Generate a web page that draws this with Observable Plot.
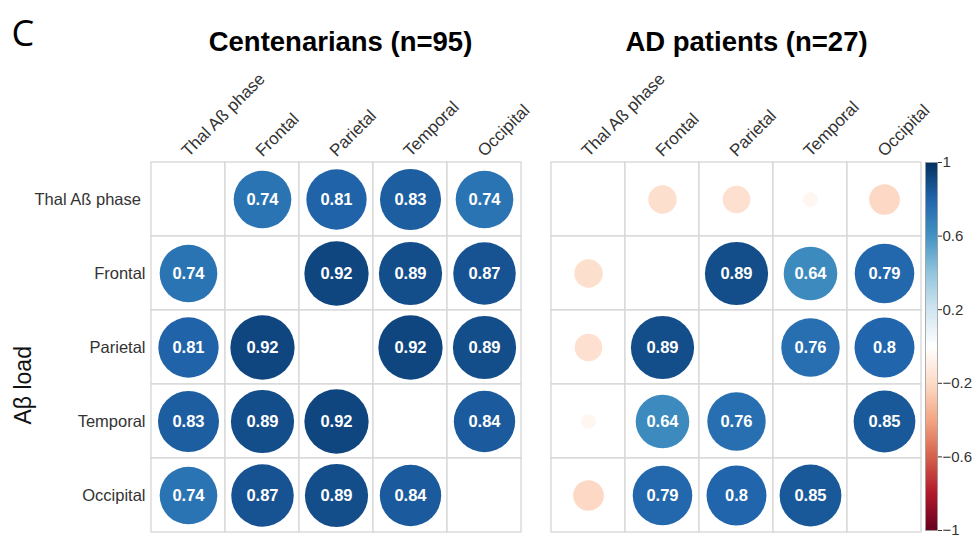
<!DOCTYPE html>
<html><head><meta charset="utf-8">
<script src="https://cdn.jsdelivr.net/npm/d3@7"></script>
<script src="https://cdn.jsdelivr.net/npm/@observablehq/plot@0.6"></script>
<style>
body{margin:0;background:#fff;}
#wrap{position:relative;width:973px;height:542px;overflow:hidden;background:#fff;}
#wrap svg{position:absolute;top:0;font-family:'Liberation Sans', Arial, sans-serif !important;}
</style></head><body><div id="wrap"></div>
<script>
const variables = ["Thal Aß phase", "Frontal", "Parietal", "Temporal", "Occipital"];
const groups = ["Centenarians (n=95)", "AD patients (n=27)"];
const centenarians = [
  [null, 0.74, 0.81, 0.83, 0.74],
  [0.74, null, 0.92, 0.89, 0.87],
  [0.81, 0.92, null, 0.92, 0.89],
  [0.83, 0.89, 0.92, null, 0.84],
  [0.74, 0.87, 0.89, 0.84, null]
];
const adPatients = [
  [null, -0.18, -0.17, -0.05, -0.21],
  [-0.18, null, 0.89, 0.64, 0.79],
  [-0.17, 0.89, null, 0.76, 0.8],
  [-0.05, 0.64, 0.76, null, 0.85],
  [-0.21, 0.79, 0.8, 0.85, null]
];
const paletteStops = [-1, -0.8, -0.6, -0.4, -0.2, 0, 0.2, 0.4, 0.6, 0.8, 1];
const paletteColors = ["#67001F", "#B2182B", "#D6604D", "#F4A582", "#FDDBC7", "#FFFFFF",
                       "#D1E5F0", "#92C5DE", "#4393C3", "#2166AC", "#053061"];
const colorbarTicks = [1, 0.6, 0.2, -0.2, -0.6, -1];
const panelLabel = "C";
const rowGroupLabel = "Aβ load";

const matrices = [centenarians, adPatients];
const cells = [];
groups.forEach((g, k) => {
  variables.forEach((rv, i) => {
    variables.forEach((cv, j) => {
      cells.push({group: g, row: rv, col: cv, value: matrices[k][i][j]});
    });
  });
});
const colLabels = groups.flatMap(g => variables.map(v => ({group: g, col: v})));
const colorOpts = {type: "linear", domain: paletteStops, range: paletteColors, clamp: true, legend: false};
const font = "Liberation Sans, Arial, sans-serif";
const fmt = d => (d < 0 ? "\u2212" : "") + String(Math.abs(d));

const main = Plot.plot({
  width: 973, height: 542,
  marginLeft: 151, marginRight: 52, marginTop: 162, marginBottom: 10,
  style: {background: "transparent", overflow: "visible"},
  fx: {domain: groups, paddingInner: 0.075, paddingOuter: 0, axis: null},
  x: {domain: variables, padding: 0, axis: null},
  y: {domain: variables, padding: 0, axis: null},
  color: colorOpts,
  r: {type: "sqrt", domain: [0, 1], range: [0, 33.5]},
  marks: [
    Plot.cell(cells, {fx: "group", x: "col", y: "row", fill: "white", stroke: "#d6d6d6", strokeWidth: 1.3}),
    Plot.dot(cells.filter(d => d.value != null), {fx: "group", x: "col", y: "row", r: d => Math.abs(d.value), fill: "value"}),
    Plot.text(cells.filter(d => d.value != null && Math.abs(d.value) > 0.5), {
      fx: "group", x: "col", y: "row", text: d => String(d.value),
      fill: "white", fontWeight: "bold", fontSize: 16.5, fontFamily: font
    }),
    Plot.axisY({tickSize: 0, tickPadding: 6, fontSize: 16.5, label: null, color: "#333", fontFamily: font,
      tickFormat: d => d === variables[0] ? d + "\u00a0" : d}),
    Plot.text(colLabels, {
      fx: "group", x: "col", frameAnchor: "top", text: "col", rotate: -45,
      textAnchor: "start", lineAnchor: "bottom", dx: 0, dy: -5, fontSize: 17, fill: "#333", fontFamily: font
    }),
    Plot.text([{group: groups[0]}], {fx: "group", frameAnchor: "top", text: "group", dy: -112, dx: 4, lineAnchor: "bottom",
      fontSize: 27.5, fontWeight: "bold", fill: "#000", fontFamily: font}),
    Plot.text([{group: groups[1]}], {fx: "group", frameAnchor: "top", text: "group", dy: -112, dx: 10, lineAnchor: "bottom",
      fontSize: 27.5, fontWeight: "bold", fill: "#000", fontFamily: font}),
    Plot.text([panelLabel], {facet: "super", frameAnchor: "top-left", text: d => d, dx: -140, dy: -117, lineAnchor: "bottom",
      fontSize: 36, fontFamily: "Open Sans, sans-serif", fill: "#000"}),
    Plot.text([rowGroupLabel], {facet: "super", frameAnchor: "left", text: d => d, rotate: -90, dx: -121, dy: 77,
      lineAnchor: "bottom", fontSize: 23, fill: "#111", fontFamily: font}),
    Plot.ruleX([{group: groups[0], y1: variables[1], y2: variables[4]}], {fx: "group", y1: "y1", y2: "y2", dx: -281,
      insetTop: 38, insetBottom: 32, stroke: "#111", strokeWidth: 1.3})
  ]
});

const bar = Plot.plot({
  width: 73, height: 542,
  marginLeft: 25, marginRight: 36, marginTop: 162, marginBottom: 12,
  style: {background: "transparent", overflow: "visible"},
  x: {domain: [0, 1], axis: null},
  y: {domain: [-1, 1], axis: null},
  color: colorOpts,
  marks: [
    Plot.raster({fill: (x, y) => y, x1: 0, x2: 1, y1: -1, y2: 1, width: 1, height: 368}),
    Plot.frame({stroke: "#999", strokeWidth: 0.8}),
    Plot.axisY(colorbarTicks, {anchor: "right", tickSize: 4, tickPadding: 1, fontSize: 15, color: "#333",
      label: null, tickFormat: fmt, fontFamily: font})
  ]
});

const wrap = document.getElementById("wrap");
wrap.appendChild(main);
bar.style.left = "900px";
wrap.appendChild(bar);
</script></body></html>
